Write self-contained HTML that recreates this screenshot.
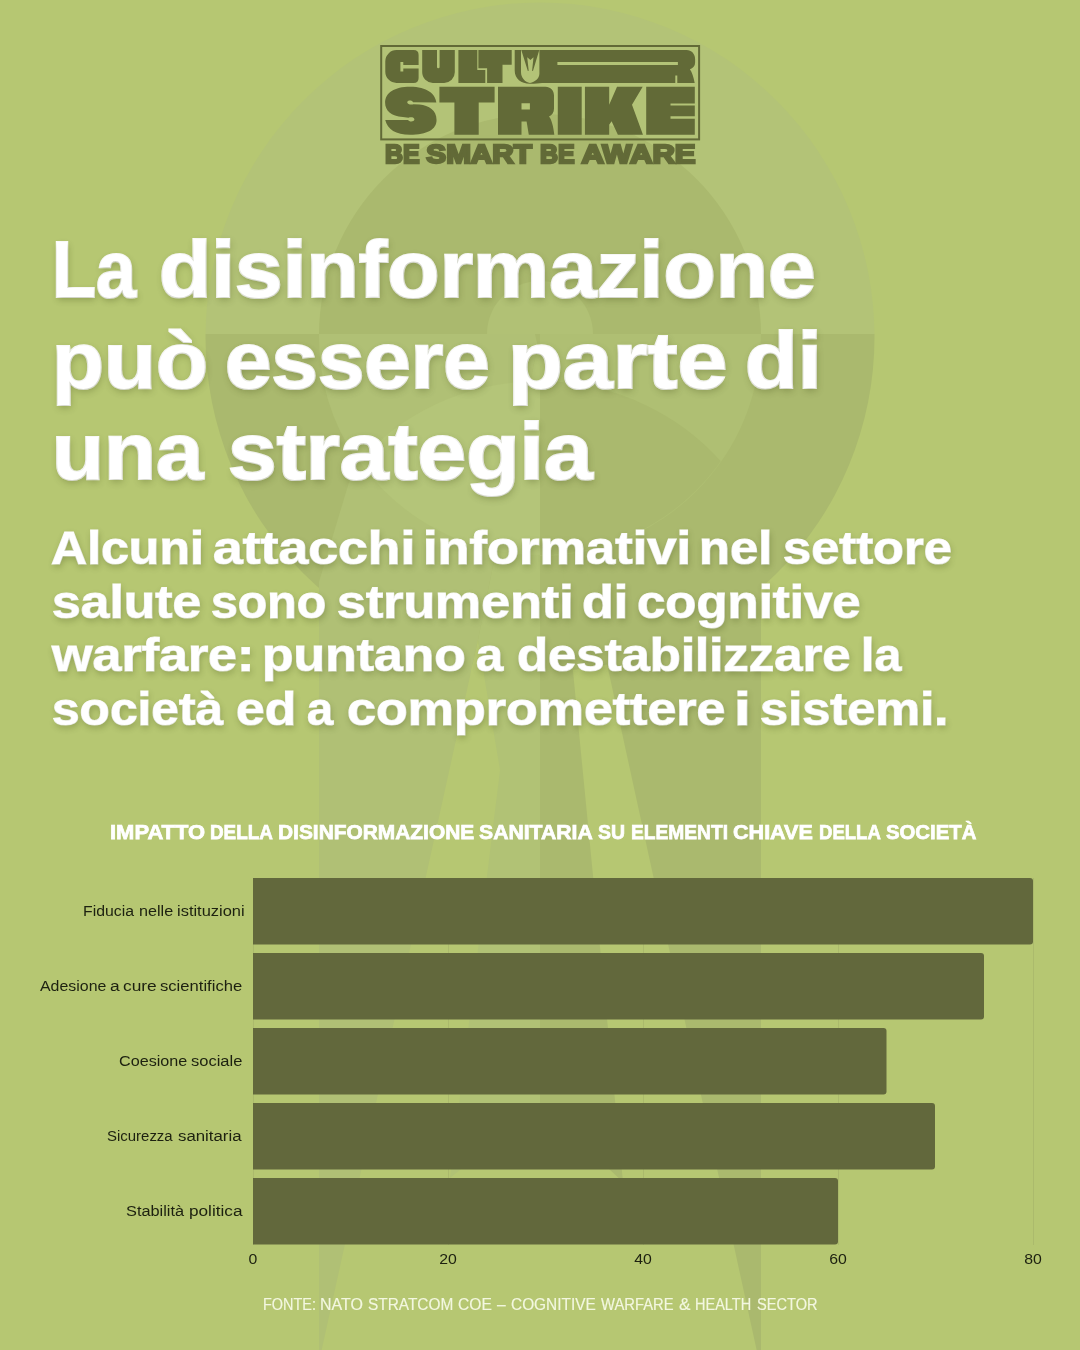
<!DOCTYPE html>
<html lang="it">
<head>
<meta charset="utf-8">
<title>Cult Strike – La disinformazione può essere parte di una strategia</title>
<style>
  html, body { margin: 0; padding: 0; }
  body {
    width: 1080px; height: 1350px; overflow: hidden; position: relative;
    background: #b6c772;
    font-family: "Liberation Sans", sans-serif;
  }
  .abs { position: absolute; white-space: nowrap; will-change: transform; }
  .w { position: absolute; top: 0; left: 0; transform-origin: 0 50%; white-space: nowrap; }
  .h1, .p1, .ctitle, .foot, .cat { left: 0; width: 1080px; }
  svg.layer { position: absolute; left: 0; top: 0; will-change: transform; }

  /*TEXT-START*/
  /* headline */
  .h1 { color: #fff; font-weight: bold; font-size: 80px; line-height: 91px; height: 91px;
                -webkit-text-stroke: 2.2px #fff; paint-order: stroke fill;
        text-shadow: 1px 3px 7px rgba(60,70,20,0.30); }
  /* paragraph */
  .p1 { color: #fff; font-weight: bold; font-size: 47px; line-height: 54px; height: 54px;
                -webkit-text-stroke: 1.2px #fff; paint-order: stroke fill;
        text-shadow: 1px 2.5px 6px rgba(60,70,20,0.32); }

  .ctitle { color: #fff; font-weight: bold; font-size: 21px; line-height: 24px; -webkit-text-stroke: 0.75px #fff; }
  .cat { color: #1d2110; font-size: 15.2px; line-height: 20px; }
  .tick { width: 60px; text-align: center; color: #1d2110; font-size: 14px; line-height: 16px; top: 1251px; transform: scaleX(1.13); }
  .foot { color: #f3f7e0; font-size: 15.6px; line-height: 20px; -webkit-text-stroke: 0.15px #f3f7e0; }
  /*TEXT-END*/
</style>
</head>
<body>

<!-- WATERMARK -->
<svg class="layer" width="1080" height="1350" viewBox="0 0 1080 1350">
  <defs>
    <clipPath id="upper"><rect x="0" y="0" width="1080" height="334"/></clipPath>
    <clipPath id="lower"><rect x="0" y="334" width="1080" height="1100"/></clipPath>
    <clipPath id="discLower"><path d="M319,334 A221,221 0 0 0 761,334 Z"/></clipPath>
  </defs>
  <!-- outer ring -->
  <circle cx="540" cy="337" r="334.5" fill="#b3c377" clip-path="url(#upper)"/>
  <circle cx="540" cy="337" r="334.5" fill="#aab96e" clip-path="url(#lower)"/>
  <!-- inner disc -->
  <circle cx="540" cy="335" r="221" fill="#aab96e" clip-path="url(#upper)"/>
  <!-- tail fins (over the ring) -->
  <path d="M319,334 L540,334 L478,640 L319,1362 Z" fill="#b0c075"/>
  <path d="M319,334 A221,221 0 0 0 356,459 L319,582 Z" fill="#aab96e"/>
  <polygon points="540,334 478,640 500,770 450,1178 540,1105" fill="#b1c275"/>
  <polygon points="761,334 535,334 761,1370" fill="#aab96e"/>
  <polygon points="540,334 540,1105 623,1182" fill="#aab96e"/>
  <polygon points="478,640 484,674 470.5,674" fill="#b6c772"/>
  <!-- lower-right quadrant of the disc -->
  <path d="M540,334 H761 A221,221 0 0 1 540,556 Z" fill="#afbf73"/>
  <!-- body sphere (lit left / shaded right) -->
  <g clip-path="url(#discLower)">
    <path d="M540,381 A244,244 0 0 0 296,625 L540,625 Z" fill="#b4c579"/>
    <path d="M540,381 A244,244 0 0 1 784,625 L540,625 Z" fill="#aab96e"/>
  </g>
  <!-- hub -->
  <path d="M487,334 A53,53 0 0 1 593,334 Z" fill="#b1c175"/>
</svg>

<!-- LOGO -->
<svg id="logo" class="layer" width="1080" height="200" viewBox="0 0 1080 200" fill="#626a37">
  <rect x="381.2" y="46" width="317.9" height="93.4" fill="none" stroke="#626a37" stroke-width="2"/>
  <path d="M396.5,50.1 H413.6 Q418.6,50.1 418.6,55.1 V65.1 H403.3 V62.1 H400.4 V71.4 H403.3 V68.4 H418.6 V77.9 Q418.6,82.9 413.6,82.9 H396.5 A11.2,11.2 0 0 1 385.3,71.7 V61.3 A11.2,11.2 0 0 1 396.5,50.1 Z"/>
  <path d="M422.2,50.1 H437 V67 a1.3,1.3 0 0 0 2.6,0 V50.1 H454.8 V72.3 A10.6,10.6 0 0 1 444.2,82.9 H432.8 A10.6,10.6 0 0 1 422.2,72.3 Z"/>
  <path d="M458.4,50.1 H477.3 V69.9 H485.3 V82.9 H458.4 Z"/>
  <path d="M478.4,50.1 H511.7 V64.8 H502.5 V82.9 H487.1 V68.3 H478.4 Z"/>
  <path fill-rule="evenodd" d="M514.7,50.1 V70.5 C514.7,78.6 521,83.7 530,83.7 C535.5,83.7 538.5,82.9 542,82.9 H675.3 V75.6 H677.3 V82.9 H694.7 C693.6,77 692,72 689.9,69.2 C693,68.2 695.1,66 695.1,62.5 V59 C695.1,54 691.5,50.1 686.5,50.1 Z M521,50.1 V72 C521,78 525,82 530,82.9 C535,82 539.4,78.5 539.4,73.5 V50.1 Z M557.4,62 H677.9 V65 H557.4 Z"/>
  <path d="M521.3,50.1 L527.84,71.1 L528.7,70.7 L527.2,57.2 L530.4,60 L533.5,57.2 L532.1,70.7 L532.95,71.1 L539.3,50.1 Z"/>
  <path d="M410,86.74 C427.19,86.74 435.48,93.85 436.37,102.62 L412.96,102.33 C412.67,99.78 407.33,99.78 407.21,102.15 C407.33,104.4 411.19,104.81 413.56,104.16 L419.48,104.52 C428.96,105.41 436.55,110.44 436.55,119.93 C436.55,129.41 427.19,134.74 410,134.74 C395.78,134.74 387.48,129.41 385.23,119.93 L408.22,119.93 C408.81,122 414.27,122 414.44,119.45 C414.27,117.26 411.19,116.96 408.52,117.67 L402.89,117.08 C391.04,116.07 385.11,110.44 385.11,102.74 C385.11,92.67 394.59,86.74 410,86.74 Z"/>
  <path d="M439.4,86.7 H494.6 V102.4 H478.7 V134.8 H454.4 V102.4 H439.4 Z"/>
  <path fill-rule="evenodd" d="M498,86.7 H545.5 C550.5,86.7 554,90.5 554,95.5 V108.5 C554,112.5 552,115 549,116.6 C551.5,119.5 553.3,126 554.3,134.8 H528.8 L526.6,121.6 H521.5 V134.8 H498 Z M521.5,103.2 H529.9 V109.6 H521.5 Z"/>
  <path d="M557.8,86.7 H581.7 V134.8 H557.8 Z"/>
  <path d="M584.94,86.71 L609.18,86.71 L609.18,104.81 L617.02,86.71 L642.69,86.71 L631.99,104.81 L642.97,134.76 L617.87,134.76 L611.6,121.21 L609.18,124.78 L609.18,134.76 L584.94,134.76 Z"/>
  <path d="M646.2,86.7 H694.8 V103.4 H670.5 V105.5 H694.8 V116.2 H670.5 V118.8 H694.8 V134.8 H646.2 Z"/>
  <g font-family="Liberation Sans, sans-serif" font-weight="bold" font-size="25.4" stroke="#626a37" stroke-width="2.3" stroke-linejoin="miter"><text x="384.99" y="163.3" textLength="34.60" lengthAdjust="spacingAndGlyphs">BE</text><text x="426.33" y="163.3" textLength="105.58" lengthAdjust="spacingAndGlyphs">SMART</text><text x="539.99" y="163.3" textLength="34.64" lengthAdjust="spacingAndGlyphs">BE</text><text x="581.63" y="163.3" textLength="113.92" lengthAdjust="spacingAndGlyphs">AWARE</text></g>
</svg>

<!-- HEADLINE -->
<!--H-START-->
<div id="h1a" class="abs h1" style="top:224.4px;"><span class="w" style="left:51.5px;transform:scaleX(0.9000)">La</span> <span class="w" style="left:158.9px;transform:scaleX(1.0705)">disinformazione</span></div>
<div id="h1b" class="abs h1" style="top:315.4px;"><span class="w" style="left:51.7px;transform:scaleX(1.0643)">può</span> <span class="w" style="left:224.9px;transform:scaleX(1.0440)">essere</span> <span class="w" style="left:507.5px;transform:scaleX(1.1211)">parte</span> <span class="w" style="left:744.8px;transform:scaleX(1.0781)">di</span></div>
<div id="h1c" class="abs h1" style="top:406.4px;"><span class="w" style="left:51.7px;transform:scaleX(1.0643)">una</span> <span class="w" style="left:227.8px;transform:scaleX(1.0931)">strategia</span></div>
<!--H-END-->

<!-- PARAGRAPH -->
<!--P-START-->
<div id="p1a" class="abs p1" style="top:520.8px;"><span class="w" style="left:50.9px;transform:scaleX(1.0647)">Alcuni</span> <span class="w" style="left:212.9px;transform:scaleX(1.1387)">attacchi</span> <span class="w" style="left:422.7px;transform:scaleX(1.1154)">informativi</span> <span class="w" style="left:698.8px;transform:scaleX(1.0806)">nel</span> <span class="w" style="left:782.9px;transform:scaleX(1.0779)">settore</span></div>
<div id="p1b" class="abs p1" style="top:574.5px;"><span class="w" style="left:51.9px;transform:scaleX(1.0977)">salute</span> <span class="w" style="left:211.0px;transform:scaleX(1.0275)">sono</span> <span class="w" style="left:336.9px;transform:scaleX(1.1048)">strumenti</span> <span class="w" style="left:581.8px;transform:scaleX(1.1081)">di</span> <span class="w" style="left:636.8px;transform:scaleX(1.0837)">cognitive</span></div>
<div id="p1c" class="abs p1" style="top:628.2px;"><span class="w" style="left:52.0px;transform:scaleX(1.1067)">warfare:</span> <span class="w" style="left:261.7px;transform:scaleX(1.0994)">puntano</span> <span class="w" style="left:476.0px;transform:scaleX(1.0385)">a</span> <span class="w" style="left:516.8px;transform:scaleX(1.0820)">destabilizzare</span> <span class="w" style="left:860.9px;transform:scaleX(1.0270)">la</span></div>
<div id="p1d" class="abs p1" style="top:681.9px;"><span class="w" style="left:51.9px;transform:scaleX(1.0559)">società</span> <span class="w" style="left:235.8px;transform:scaleX(1.1000)">ed</span> <span class="w" style="left:307.0px;transform:scaleX(1.0000)">a</span> <span class="w" style="left:346.8px;transform:scaleX(1.1062)">compromettere</span> <span class="w" style="left:734.1px;transform:scaleX(1.2857)">i</span> <span class="w" style="left:759.9px;transform:scaleX(1.0760)">sistemi.</span></div>
<!--P-END-->

<!-- CHART -->
<!--T-START-->
<div id="ctitle" class="abs ctitle" style="top:820px;"><span class="w" style="left:110.0px;transform:scaleX(1.0449)">IMPATTO</span> <span class="w" style="left:210.1px;transform:scaleX(0.8971)">DELLA</span> <span class="w" style="left:278.0px;transform:scaleX(0.9949)">DISINFORMAZIONE</span> <span class="w" style="left:479.0px;transform:scaleX(1.0090)">SANITARIA</span> <span class="w" style="left:598.1px;transform:scaleX(0.9259)">SU</span> <span class="w" style="left:631.1px;transform:scaleX(0.9135)">ELEMENTI</span> <span class="w" style="left:733.0px;transform:scaleX(1.0263)">CHIAVE</span> <span class="w" style="left:819.1px;transform:scaleX(0.8824)">DELLA</span> <span class="w" style="left:886.0px;transform:scaleX(0.9674)">SOCIETÀ</span></div>
<!--T-END-->

<svg class="layer" width="1080" height="1350" viewBox="0 0 1080 1350">
  <g stroke="#abba6c" stroke-width="1">
    <line x1="253.5" y1="878" x2="253.5" y2="1245"/>
    <line x1="448.5" y1="878" x2="448.5" y2="1245"/>
    <line x1="643.5" y1="878" x2="643.5" y2="1245"/>
    <line x1="838.5" y1="878" x2="838.5" y2="1245"/>
    <line x1="1033.5" y1="878" x2="1033.5" y2="1245"/>
  </g>
  <g fill="#62683c">
    <path d="M253,878 H1030 a3,3 0 0 1 3,3 V941.5 a3,3 0 0 1 -3,3 H253 Z"/>
    <path d="M253,953 H981 a3,3 0 0 1 3,3 V1016.5 a3,3 0 0 1 -3,3 H253 Z"/>
    <path d="M253,1028 H883.5 a3,3 0 0 1 3,3 V1091.5 a3,3 0 0 1 -3,3 H253 Z"/>
    <path d="M253,1103 H932 a3,3 0 0 1 3,3 V1166.5 a3,3 0 0 1 -3,3 H253 Z"/>
    <path d="M253,1178 H835 a3,3 0 0 1 3,3 V1241.5 a3,3 0 0 1 -3,3 H253 Z"/>
  </g>
</svg>

<!--C-START-->
<div id="cat1" class="abs cat" style="top:901px;"><span class="w" style="left:83.0px;transform:scaleX(1.0417)">Fiducia</span> <span class="w" style="left:138.9px;transform:scaleX(1.0645)">nelle</span> <span class="w" style="left:176.9px;transform:scaleX(1.0833)">istituzioni</span></div>
<div id="cat2" class="abs cat" style="top:976px;"><span class="w" style="left:40.0px;transform:scaleX(1.0476)">Adesione</span> <span class="w" style="left:109.9px;transform:scaleX(1.1429)">a</span> <span class="w" style="left:122.9px;transform:scaleX(1.1429)">cure</span> <span class="w" style="left:159.9px;transform:scaleX(1.0946)">scientifiche</span></div>
<div id="cat3" class="abs cat" style="top:1051px;"><span class="w" style="left:118.9px;transform:scaleX(1.0635)">Coesione</span> <span class="w" style="left:190.9px;transform:scaleX(1.0870)">sociale</span></div>
<div id="cat4" class="abs cat" style="top:1126px;"><span class="w" style="left:107.0px;transform:scaleX(0.9848)">Sicurezza</span> <span class="w" style="left:177.9px;transform:scaleX(1.1071)">sanitaria</span></div>
<div id="cat5" class="abs cat" style="top:1201px;"><span class="w" style="left:125.9px;transform:scaleX(1.0755)">Stabilità</span> <span class="w" style="left:188.9px;transform:scaleX(1.1304)">politica</span></div>
<!--C-END-->

<div class="abs tick" style="left:223px;">0</div>
<div class="abs tick" style="left:418px;">20</div>
<div class="abs tick" style="left:613px;">40</div>
<div class="abs tick" style="left:808px;">60</div>
<div class="abs tick" style="left:1003px;">80</div>

<!--F-START-->
<div id="foot" class="abs foot" style="top:1295.4px;"><span class="w" style="left:263.1px;transform:scaleX(0.9259)">FONTE:</span> <span class="w" style="left:320.0px;transform:scaleX(1.0250)">NATO</span> <span class="w" style="left:368.0px;transform:scaleX(0.9881)">STRATCOM</span> <span class="w" style="left:458.0px;transform:scaleX(1.0000)">COE</span> <span class="w" style="left:497.0px;transform:scaleX(1.0000)">–</span> <span class="w" style="left:511.0px;transform:scaleX(0.9881)">COGNITIVE</span> <span class="w" style="left:601.0px;transform:scaleX(0.9474)">WARFARE</span> <span class="w" style="left:679.0px;transform:scaleX(1.1000)">&amp;</span> <span class="w" style="left:695.1px;transform:scaleX(0.9310)">HEALTH</span> <span class="w" style="left:757.1px;transform:scaleX(0.9355)">SECTOR</span></div>
<!--F-END-->

</body>
</html>
